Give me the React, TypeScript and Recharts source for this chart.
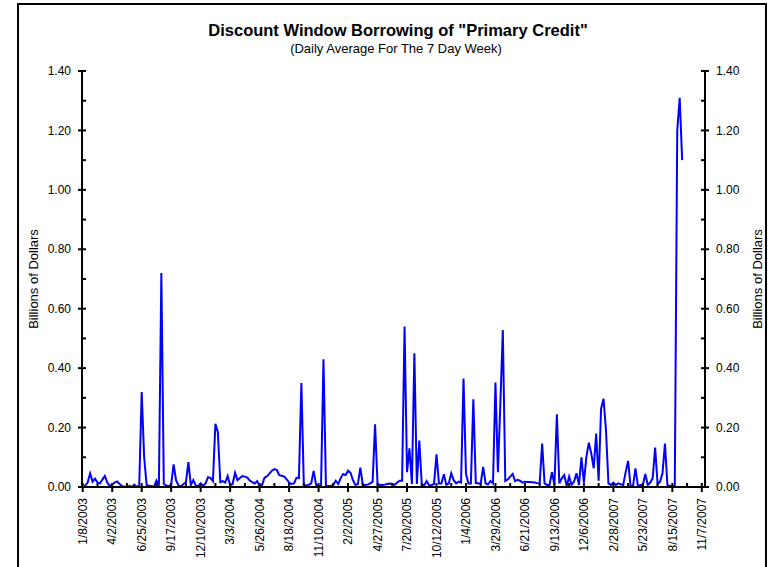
import React from 'react';
import { LineChart, Line, XAxis, YAxis } from 'recharts';

const FONT = '"Liberation Sans", Arial, Helvetica, sans-serif';

// Axis labels every 12 weeks
const DATE_LABELS = [
  '1/8/2003', '4/2/2003', '6/25/2003', '9/17/2003', '12/10/2003', '3/3/2004',
  '5/26/2004', '8/18/2004', '11/10/2004', '2/2/2005', '4/27/2005', '7/20/2005',
  '10/12/2005', '1/4/2006', '3/29/2006', '6/21/2006', '9/13/2006', '12/6/2006',
  '2/28/2007', '5/23/2007', '8/15/2007', '11/7/2007',
];
const WEEKS_PER_LABEL = 12;

// Weekly primary credit borrowing, billions of dollars
const PRIMARY_CREDIT = [
  0.000, 0.005, 0.015, 0.046, 0.018, 0.028, 0.015, 0.012, 0.025, 0.037,
  0.015, 0.003, 0.008, 0.015, 0.019, 0.010, 0.003, 0.001, 0.001, 0.004,
  0.000, 0.008, 0.000, 0.006, 0.320, 0.100, 0.007, 0.004, 0.003, 0.001,
  0.022, 0.004, 0.720, 0.010, 0.005, 0.003, 0.008, 0.076, 0.022, 0.005,
  0.002, 0.010, 0.016, 0.084, 0.006, 0.023, 0.005, 0.003, 0.012, 0.004,
  0.012, 0.033, 0.031, 0.020, 0.213, 0.185, 0.016, 0.020, 0.015, 0.037,
  0.006, 0.010, 0.048, 0.023, 0.030, 0.037, 0.035, 0.032, 0.022, 0.016,
  0.012, 0.020, 0.003, 0.007, 0.031, 0.036, 0.045, 0.055, 0.060, 0.057,
  0.040, 0.038, 0.035, 0.026, 0.015, 0.010, 0.012, 0.031, 0.030, 0.350,
  0.007, 0.005, 0.007, 0.012, 0.054, 0.007, 0.004, 0.003, 0.430, 0.003,
  0.003, 0.003, 0.008, 0.021, 0.010, 0.030, 0.044, 0.040, 0.055, 0.048,
  0.023, 0.007, 0.010, 0.065, 0.007, 0.007, 0.008, 0.012, 0.018, 0.211,
  0.010, 0.007, 0.007, 0.008, 0.010, 0.012, 0.010, 0.007, 0.015, 0.021,
  0.021, 0.540, 0.050, 0.130, 0.010, 0.450, 0.010, 0.156, 0.010, 0.005,
  0.020, 0.005, 0.007, 0.010, 0.110, 0.012, 0.012, 0.043, 0.007, 0.012,
  0.046, 0.023, 0.012, 0.018, 0.015, 0.365, 0.045, 0.012, 0.012, 0.295,
  0.014, 0.012, 0.012, 0.068, 0.012, 0.009, 0.020, 0.012, 0.352, 0.050,
  0.280, 0.528, 0.020, 0.025, 0.035, 0.044, 0.020, 0.024, 0.021, 0.015,
  0.018, 0.017, 0.017, 0.016, 0.015, 0.013, 0.012, 0.146, 0.012, 0.007,
  0.007, 0.050, 0.007, 0.245, 0.012, 0.029, 0.040, 0.003, 0.035, 0.007,
  0.018, 0.046, 0.007, 0.100, 0.015, 0.100, 0.149, 0.113, 0.063, 0.180,
  0.021, 0.264, 0.297, 0.190, 0.012, 0.007, 0.015, 0.007, 0.012, 0.009,
  0.007, 0.050, 0.088, 0.003, 0.003, 0.063, 0.003, 0.007, 0.007, 0.044,
  0.007, 0.015, 0.029, 0.133, 0.010, 0.018, 0.046, 0.146, 0.007, 0.003,
  0.003, 0.003, 1.200, 1.310, 1.100,
];

// Value axis: labelled every 0.20, minor marks at the odd tenths
const VALUE_TICKS = [0, 0.1, 0.2, 0.3, 0.4, 0.5, 0.6, 0.7, 0.8, 0.9, 1.0, 1.1, 1.2, 1.3, 1.4];

const rows = PRIMARY_CREDIT.map((value, week) => ({ week, value }));
const weekTicks: number[] = [];
for (let k = 0; k <= (DATE_LABELS.length - 1) * 2; k++) weekTicks.push(k * (WEEKS_PER_LABEL / 2));

const X_DOMAIN: [number, number] = [-0.3, 253.3];
const AXIS_LINE = { stroke: '#000', strokeWidth: 2 };

const isMajorWeek = (v: number) => v % WEEKS_PER_LABEL === 0;
const isMajorValue = (v: number) => Math.round(v * 10) % 2 === 0;

function BottomTick(props: any) {
  const { x, y, payload } = props;
  const v = payload.value;
  const major = isMajorWeek(v);
  const ly = y + 11;
  return (
    <g>
      <line x1={x} x2={x} y1={y - 4} y2={major ? y + 5 : y} stroke="#000" strokeWidth={2} />
      {major && (
        <text
          x={x}
          y={ly}
          transform={`rotate(-90 ${x} ${ly})`}
          textAnchor="end"
          dy="0.35em"
          fontSize={12}
          fontFamily={FONT}
          fill="#000"
        >
          {DATE_LABELS[v / WEEKS_PER_LABEL]}
        </text>
      )}
    </g>
  );
}

function TopTick(props: any) {
  const { x, y, payload } = props;
  const major = isMajorWeek(payload.value);
  return <line x1={x} x2={x} y1={major ? y - 4 : y} y2={y + 4} stroke="#000" strokeWidth={2} />;
}

function LeftTick(props: any) {
  const { x, y, payload } = props;
  const v = payload.value;
  const major = isMajorValue(v);
  return (
    <g>
      <line x1={major ? x - 4 : x} x2={x + 4} y1={y} y2={y} stroke="#000" strokeWidth={2} />
      {major && (
        <text x={x - 11} y={y} dy="0.35em" textAnchor="end" fontSize={12} fontFamily={FONT} fill="#000">
          {v.toFixed(2)}
        </text>
      )}
    </g>
  );
}

function RightTick(props: any) {
  const { x, y, payload } = props;
  const v = payload.value;
  const major = isMajorValue(v);
  return (
    <g>
      <line x1={x - 4} x2={major ? x + 4 : x} y1={y} y2={y} stroke="#000" strokeWidth={2} />
      {major && (
        <text x={x + 11} y={y} dy="0.35em" textAnchor="start" fontSize={12} fontFamily={FONT} fill="#000">
          {v.toFixed(2)}
        </text>
      )}
    </g>
  );
}

export default function App() {
  const plotMidY = (71 + 487) / 2;
  return (
    <div style={{ position: 'absolute', left: 0, top: 0, width: 772, height: 567, background: '#fff', overflow: 'hidden' }}>
      <LineChart width={772} height={567} data={rows} margin={{ top: 71, right: 0, bottom: 0, left: 0 }}>
        <XAxis
          xAxisId="bottom"
          dataKey="week"
          type="number"
          domain={X_DOMAIN}
          allowDataOverflow
          ticks={weekTicks}
          interval={0}
          height={80}
          axisLine={AXIS_LINE}
          tickLine={false}
          tickSize={0}
          tickMargin={0}
          tick={<BottomTick />}
        />
        <XAxis
          xAxisId="top"
          orientation="top"
          type="number"
          domain={X_DOMAIN}
          allowDataOverflow
          ticks={weekTicks}
          interval={0}
          height={0}
          axisLine={AXIS_LINE}
          tickLine={false}
          tickSize={0}
          tickMargin={0}
          tick={<TopTick />}
        />
        <YAxis
          yAxisId="left"
          type="number"
          domain={[0, 1.4]}
          allowDataOverflow
          ticks={VALUE_TICKS}
          interval={0}
          width={82}
          axisLine={AXIS_LINE}
          tickLine={false}
          tickSize={0}
          tickMargin={0}
          tick={<LeftTick />}
        />
        <YAxis
          yAxisId="right"
          orientation="right"
          type="number"
          domain={[0, 1.4]}
          allowDataOverflow
          ticks={VALUE_TICKS}
          interval={0}
          width={67}
          axisLine={AXIS_LINE}
          tickLine={false}
          tickSize={0}
          tickMargin={0}
          tick={<RightTick />}
        />
        <Line
          xAxisId="bottom"
          yAxisId="left"
          type="linear"
          dataKey="value"
          stroke="#0000FF"
          strokeWidth={2}
          dot={false}
          activeDot={false}
          isAnimationActive={false}
        />
      </LineChart>
      <svg
        width={772}
        height={567}
        style={{ position: 'absolute', left: 0, top: 0, pointerEvents: 'none' }}
      >
        <rect x={18} y={4} width={748} height={600} fill="none" stroke="#000" strokeWidth={2} />
        <text x={398} y={36} textAnchor="middle" fontSize={16.5} fontWeight="bold" fontFamily={FONT} fill="#000">
          Discount Window Borrowing of "Primary Credit"
        </text>
        <text x={396} y={53} textAnchor="middle" fontSize={13} fontFamily={FONT} fill="#000">
          (Daily Average For The 7 Day Week)
        </text>
        <text
          x={33}
          y={plotMidY}
          transform={`rotate(-90 33 ${plotMidY})`}
          textAnchor="middle"
          dy="0.35em"
          fontSize={13}
          fontFamily={FONT}
          fill="#000"
        >
          Billions of Dollars
        </text>
        <text
          x={757}
          y={plotMidY}
          transform={`rotate(-90 757 ${plotMidY})`}
          textAnchor="middle"
          dy="0.35em"
          fontSize={13}
          fontFamily={FONT}
          fill="#000"
        >
          Billions of Dollars
        </text>
      </svg>
    </div>
  );
}
